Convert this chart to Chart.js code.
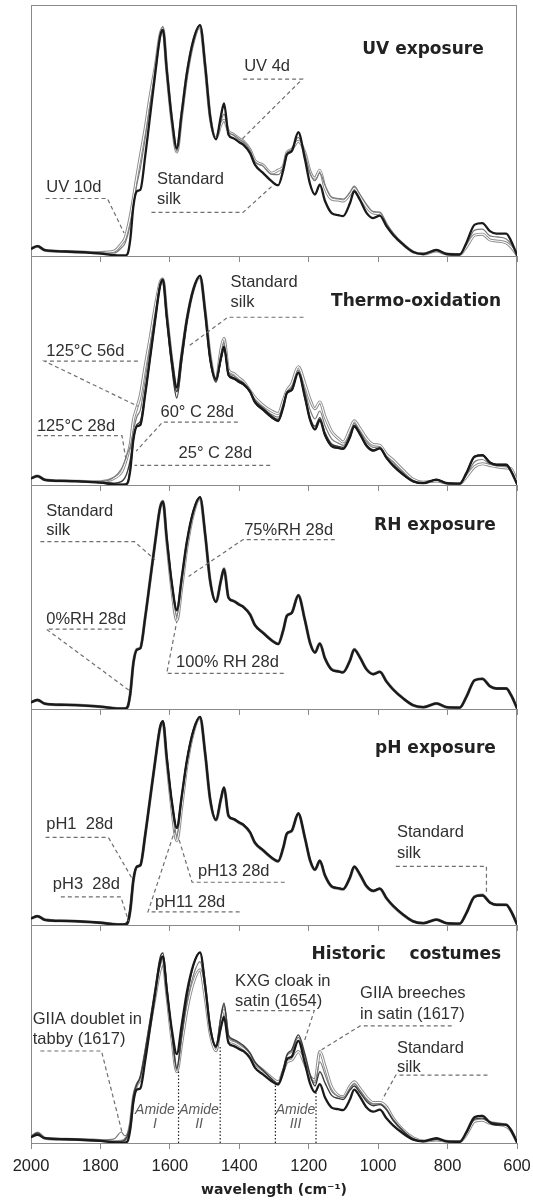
<!DOCTYPE html>
<html>
<head>
<meta charset="utf-8">
<script src="https://cdn.jsdelivr.net/npm/chart.js@4.4.1/dist/chart.umd.min.js"></script>
<style>
  html, body { margin: 0; padding: 0; background: #ffffff; }
  #fig { position: relative; width: 533px; height: 1201px; overflow: hidden; background: #ffffff; }
  #fig canvas { position: absolute; left: 0; }
</style>
</head>
<body>
<div id="fig"></div>
<script>
// Wavenumber grid (cm-1) shared by every spectrum, high to low
const WN = [2000, 1981, 1960, 1900, 1800, 1760, 1740, 1730, 1722, 1714,
  1705, 1695, 1685, 1671, 1657, 1642, 1628, 1620, 1609, 1594,
  1580, 1566, 1551, 1532, 1513, 1498, 1484, 1467, 1453, 1444,
  1431, 1417, 1400, 1388, 1369, 1355, 1331, 1307, 1288, 1273,
  1263, 1249, 1230, 1211, 1196, 1182, 1168, 1153, 1134, 1115,
  1101, 1081, 1069, 1053, 1033, 1014, 995, 976, 957, 928,
  899, 870, 832, 803, 765, 746, 722, 700, 678, 659,
  631, 617, 600];

// Normalised absorbance of the reference silk
const STD_SILK = [2.9, 3.9, 2.3, 1.8, 1.0, 0.3, 0.2, 0.2, 0.8, 6.6,
  19.9, 25.8, 26.4, 39.8, 55.7, 72.8, 87.5, 90.1, 74.2, 54.3,
  42.9, 56.9, 72.8, 86.1, 92.0, 75.5, 55.7, 46.5, 55.7, 60.8,
  48.3, 46.9, 45.3, 44.3, 41.0, 36.4, 33.0, 29.8, 28.2, 34.4,
  40.4, 41.7, 49.3, 38.6, 28.6, 24.5, 28.4, 21.9, 17.1, 16.3,
  15.9, 21.1, 25.8, 22.5, 17.1, 15.1, 16.1, 11.9, 8.5, 4.6,
  1.6, 0.8, 2.4, 0.8, 0.6, 5.2, 12.5, 13.1, 9.9, 8.9,
  8.9, 6.0, 0.4];

// UV exposure
const UV_4D = [2.9, 3.9, 2.3, 1.8, 1.2, 1.2, 3.2, 4.8, 8.0, 12.7,
  19.9, 28.6, 35.0, 46.9, 60.4, 74.8, 88.3, 91.5, 75.5, 54.5,
  41.8, 56.5, 72.5, 86.0, 92.0, 75.5, 55.7, 46.5, 53.5, 56.5,
  49.5, 48.3, 46.5, 45.5, 42.2, 37.6, 35.8, 32.6, 32.4, 35.6,
  41.0, 42.5, 47.3, 40.8, 33.0, 30.0, 33.0, 28.2, 23.5, 22.9,
  22.7, 25.4, 27.8, 24.7, 20.5, 17.7, 17.5, 13.1, 9.1, 4.8,
  1.6, 0.8, 2.2, 0.8, 0.6, 4.4, 10.3, 10.7, 8.0, 7.6,
  6.8, 4.8, 0.4];
const UV_10D = [2.9, 3.9, 2.3, 1.8, 1.4, 2.0, 4.8, 6.8, 10.7, 15.9,
  23.1, 31.8, 39.8, 50.9, 63.6, 75.5, 88.3, 90.7, 74.0, 53.5,
  41.4, 56.0, 72.0, 85.5, 91.6, 75.0, 55.5, 46.9, 52.3, 54.1,
  49.7, 48.5, 46.7, 45.7, 42.4, 38.0, 36.2, 33.0, 34.2, 35.8,
  41.2, 42.5, 45.7, 41.2, 33.6, 31.0, 34.2, 27.0, 22.7, 22.3,
  21.9, 24.7, 27.0, 23.9, 19.5, 17.1, 16.7, 12.3, 8.7, 4.6,
  1.6, 0.8, 2.0, 0.8, 0.6, 3.6, 8.3, 8.7, 6.4, 6.0,
  5.2, 3.6, 0.4];

// Thermo-oxidation
const T25_28D = [2.9, 3.9, 2.3, 1.8, 1.0, 0.3, 0.2, 0.3, 1.0, 7.0,
  20.0, 25.8, 26.5, 39.8, 55.5, 72.5, 87.3, 89.8, 73.0, 51.5,
  38.2, 54.0, 71.5, 85.8, 91.8, 75.0, 55.0, 45.2, 55.0, 60.3,
  48.0, 46.6, 45.0, 44.0, 40.8, 36.2, 32.8, 29.6, 27.9, 34.2,
  40.2, 41.5, 49.6, 38.4, 28.4, 24.2, 28.8, 21.6, 16.9, 16.1,
  15.8, 21.0, 25.7, 22.4, 17.0, 15.0, 16.0, 11.8, 8.4, 4.5,
  1.5, 0.8, 2.4, 0.8, 0.6, 5.3, 12.6, 13.2, 10.0, 9.0,
  9.0, 6.1, 0.4];
const T60_28D = [2.9, 3.9, 2.3, 1.8, 1.1, 0.8, 1.5, 3.0, 6.0, 11.0,
  20.5, 26.5, 28.0, 41.0, 56.5, 73.5, 87.8, 90.3, 74.0, 53.5,
  41.0, 56.5, 72.6, 86.0, 92.0, 75.5, 55.5, 46.0, 55.0, 60.0,
  48.6, 47.2, 45.6, 44.6, 41.2, 36.8, 33.6, 30.4, 28.8, 34.8,
  40.6, 42.0, 49.6, 39.3, 29.6, 25.8, 29.6, 23.0, 18.0, 17.0,
  16.5, 21.6, 26.2, 22.8, 17.6, 15.5, 16.3, 12.0, 8.8, 4.8,
  1.6, 0.8, 2.3, 0.8, 0.6, 5.0, 12.2, 12.8, 9.7, 8.8,
  8.8, 6.0, 0.4];
const T125_28D = [2.9, 3.9, 2.3, 1.8, 1.4, 3.5, 7.0, 10.5, 14.0, 17.0,
  24.0, 30.0, 33.0, 46.0, 61.0, 76.0, 88.5, 90.8, 74.8, 54.2,
  41.0, 56.5, 72.5, 86.0, 91.8, 75.8, 56.5, 46.3, 57.5, 62.5,
  49.5, 48.0, 46.0, 45.0, 41.3, 37.5, 34.0, 31.0, 29.8, 36.0,
  41.0, 43.0, 50.5, 41.5, 33.0, 29.0, 32.5, 26.0, 20.3, 18.4,
  17.4, 22.8, 27.0, 23.8, 18.8, 16.5, 16.8, 12.7, 9.8, 5.6,
  2.0, 1.0, 2.1, 0.8, 0.6, 4.3, 10.2, 11.2, 9.2, 8.4,
  8.2, 6.5, 1.0];
const T125_56D = [2.9, 3.9, 2.3, 1.8, 1.4, 3.0, 5.5, 9.0, 13.0, 18.0,
  28.5, 34.0, 39.5, 52.5, 64.5, 78.5, 89.0, 90.5, 75.0, 54.5,
  41.7, 57.0, 72.5, 86.0, 91.5, 76.0, 57.0, 46.1, 59.5, 64.5,
  50.5, 49.1, 46.9, 45.5, 41.5, 38.5, 35.0, 32.5, 31.4, 37.3,
  41.5, 44.5, 52.0, 44.5, 37.5, 33.5, 36.5, 30.0, 23.5, 20.5,
  18.9, 24.5, 28.2, 25.0, 20.4, 17.8, 17.4, 13.5, 11.0, 6.5,
  2.5, 1.2, 1.8, 0.8, 0.6, 3.5, 8.0, 9.3, 8.6, 8.0,
  7.5, 7.1, 1.5];

// Relative humidity
const RH0_28D = [2.9, 3.9, 2.3, 1.8, 1.0, 0.3, 0.2, 0.3, 1.2, 7.5,
  20.5, 25.5, 26.6, 40.0, 56.0, 73.0, 87.6, 90.3, 74.5, 54.8,
  43.4, 57.2, 73.0, 86.3, 92.2, 75.8, 55.9, 46.7, 55.8, 60.9,
  48.5, 47.0, 45.4, 44.4, 41.1, 36.5, 33.1, 29.9, 28.3, 34.5,
  40.5, 41.8, 49.4, 38.7, 28.7, 24.6, 28.5, 22.0, 17.2, 16.4,
  16.0, 21.2, 25.9, 22.6, 17.2, 15.2, 16.2, 12.0, 8.6, 4.7,
  1.7, 0.8, 2.4, 0.8, 0.6, 5.2, 12.5, 13.1, 9.9, 8.9,
  8.9, 6.0, 0.4];
const RH75_28D = [2.9, 3.9, 2.3, 1.8, 1.0, 0.3, 0.2, 0.2, 0.9, 6.8,
  20.0, 25.7, 26.4, 39.7, 55.6, 72.6, 87.4, 90.0, 73.6, 53.0,
  40.5, 54.0, 70.5, 85.2, 91.8, 75.3, 55.6, 46.4, 55.6, 60.6,
  48.2, 46.8, 45.2, 44.2, 40.9, 36.3, 32.9, 29.7, 28.1, 34.3,
  40.3, 41.6, 49.2, 38.5, 28.5, 24.4, 28.3, 21.8, 17.0, 16.2,
  15.8, 21.0, 25.7, 22.4, 17.0, 15.0, 16.0, 11.8, 8.4, 4.5,
  1.6, 0.8, 2.4, 0.8, 0.6, 5.1, 12.4, 13.0, 9.8, 8.8,
  8.8, 5.9, 0.4];
const RH100_28D = [2.9, 3.9, 2.3, 1.8, 1.0, 0.3, 0.2, 0.2, 0.9, 6.7,
  20.1, 25.9, 26.5, 39.9, 55.8, 72.9, 87.6, 90.2, 73.2, 51.5,
  38.3, 52.5, 70.0, 85.0, 91.7, 75.4, 55.8, 46.6, 55.8, 60.9,
  48.4, 47.0, 45.4, 44.4, 41.1, 36.5, 33.1, 29.9, 28.3, 34.5,
  40.5, 41.8, 49.4, 38.7, 28.7, 24.6, 28.5, 22.0, 17.2, 16.4,
  16.0, 21.2, 25.9, 22.6, 17.2, 15.2, 16.2, 12.0, 8.6, 4.6,
  1.6, 0.8, 2.4, 0.8, 0.6, 5.2, 12.5, 13.1, 9.9, 8.9,
  8.9, 6.0, 0.4];

// pH exposure
const PH1_28D = [2.9, 3.9, 2.3, 1.8, 1.0, 0.4, 0.4, 0.6, 1.5, 8.0,
  20.6, 26.0, 26.8, 40.2, 56.0, 73.1, 87.7, 90.3, 74.4, 54.6,
  43.2, 57.1, 72.9, 86.2, 92.1, 75.6, 55.8, 46.6, 55.8, 60.9,
  48.4, 47.0, 45.4, 44.4, 41.1, 36.5, 33.1, 29.9, 28.3, 34.5,
  40.5, 41.8, 49.4, 38.7, 28.7, 24.6, 28.5, 22.0, 17.2, 16.4,
  16.0, 21.2, 25.9, 22.6, 17.2, 15.2, 16.2, 12.0, 8.6, 4.7,
  1.7, 0.8, 2.4, 0.8, 0.6, 5.3, 12.6, 13.3, 10.1, 9.1,
  9.0, 6.1, 0.4];
const PH3_28D = [2.9, 3.9, 2.3, 1.8, 1.0, 0.3, 0.2, 0.2, 0.7, 6.2,
  19.6, 25.6, 26.2, 39.6, 55.5, 72.6, 87.3, 89.9, 74.0, 54.1,
  42.7, 56.7, 72.6, 85.9, 91.9, 75.4, 55.6, 46.4, 55.6, 60.7,
  48.2, 46.8, 45.2, 44.2, 40.9, 36.3, 32.9, 29.7, 28.1, 34.3,
  40.3, 41.6, 49.2, 38.5, 28.5, 24.4, 28.3, 21.8, 17.0, 16.2,
  15.8, 21.0, 25.7, 22.4, 17.0, 15.0, 16.0, 11.8, 8.4, 4.5,
  1.5, 0.8, 2.3, 0.8, 0.6, 5.1, 12.4, 12.9, 9.8, 8.8,
  8.8, 5.9, 0.4];
const PH11_28D = [2.9, 3.9, 2.3, 1.8, 1.0, 0.3, 0.2, 0.2, 0.8, 6.6,
  19.9, 25.8, 26.4, 39.8, 55.7, 72.8, 87.4, 90.0, 73.5, 52.5,
  39.4, 54.5, 71.5, 85.6, 91.9, 75.5, 55.7, 46.5, 55.7, 60.8,
  48.3, 46.9, 45.3, 44.3, 41.0, 36.4, 33.0, 29.8, 28.2, 34.4,
  40.4, 41.7, 49.3, 38.6, 28.6, 24.5, 28.4, 21.9, 17.1, 16.3,
  15.9, 21.1, 25.8, 22.5, 17.1, 15.1, 16.1, 11.9, 8.5, 4.6,
  1.6, 0.8, 2.4, 0.8, 0.6, 5.2, 12.5, 13.1, 9.9, 8.9,
  8.9, 6.0, 0.4];
const PH13_28D = [2.9, 3.9, 2.3, 1.8, 1.0, 0.3, 0.2, 0.2, 0.8, 6.6,
  19.9, 25.8, 26.4, 39.8, 55.7, 72.8, 87.3, 89.8, 73.0, 51.0,
  37.2, 52.0, 70.5, 85.3, 91.8, 75.3, 55.5, 46.4, 55.6, 60.6,
  48.2, 46.8, 45.2, 44.2, 40.9, 36.3, 32.9, 29.7, 28.1, 34.3,
  40.3, 41.6, 49.2, 38.5, 28.5, 24.4, 28.3, 21.8, 17.0, 16.2,
  15.8, 21.0, 25.7, 22.4, 17.0, 15.0, 16.0, 11.8, 8.4, 4.5,
  1.6, 0.8, 2.4, 0.8, 0.6, 5.2, 12.6, 13.3, 10.0, 9.0,
  9.0, 6.1, 0.4];

// Historic costumes
const GIIA_DOUBLET = [2.9, 4.8, 2.3, 1.8, 1.5, 2.0, 5.3, 3.5, 4.5, 10.0,
  22.0, 28.0, 31.5, 44.0, 58.0, 73.0, 86.0, 88.5, 74.0, 52.0,
  35.0, 50.5, 67.0, 81.0, 87.5, 73.5, 55.0, 46.0, 60.5, 66.5,
  51.5, 49.5, 48.0, 46.5, 43.0, 38.8, 35.0, 31.0, 29.0, 35.5,
  42.0, 44.0, 51.0, 42.0, 32.5, 29.0, 39.2, 33.0, 25.0, 22.5,
  22.0, 26.5, 28.5, 25.5, 21.0, 18.8, 19.0, 16.5, 11.5, 6.0,
  2.3, 1.0, 1.6, 0.8, 0.6, 5.0, 12.5, 13.4, 10.5, 9.8,
  9.0, 6.8, 0.5];
const KXG_CLOAK = [2.9, 4.8, 2.3, 1.8, 1.2, 0.6, 0.8, 1.5, 3.5, 9.0,
  22.5, 28.5, 32.0, 44.5, 59.0, 75.0, 89.5, 91.7, 75.5, 53.0,
  36.0, 52.0, 70.0, 86.0, 92.0, 77.0, 57.0, 47.0, 61.0, 67.5,
  52.0, 50.0, 48.5, 47.0, 43.5, 39.0, 35.0, 31.0, 28.5, 36.0,
  42.5, 45.0, 52.2, 43.0, 33.0, 27.5, 34.4, 29.0, 23.0, 21.5,
  21.0, 25.5, 27.5, 24.5, 20.0, 18.0, 18.5, 16.0, 11.0, 5.8,
  2.0, 1.0, 1.8, 0.8, 0.6, 4.5, 11.5, 12.0, 10.0, 9.5,
  8.5, 6.5, 0.5];
const GIIA_BREECHES = [2.9, 4.8, 2.3, 1.8, 1.2, 0.6, 0.8, 1.5, 3.5, 9.0,
  22.0, 28.0, 31.0, 43.0, 57.0, 71.0, 83.5, 86.9, 72.0, 50.0,
  34.4, 48.0, 64.0, 77.5, 83.6, 70.0, 53.0, 44.5, 58.0, 64.0,
  50.0, 48.5, 47.0, 45.5, 42.5, 38.5, 35.0, 31.5, 29.5, 35.0,
  39.0, 40.0, 44.1, 38.0, 32.0, 30.4, 44.1, 37.0, 27.0, 23.0,
  22.3, 27.5, 29.5, 26.5, 22.0, 19.5, 19.5, 17.5, 12.0, 6.2,
  2.5, 1.0, 1.5, 0.8, 0.6, 4.0, 10.5, 11.0, 9.5, 9.0,
  8.0, 6.0, 0.5];

// Axis ticks and amide band boundaries
const X_TICKS = [2000, 1800, 1600, 1400, 1200, 1000, 800, 600];
const AMIDE_EDGES = [1575, 1455, 1296, 1179];
const AMIDE_TOPS = [35.2, 46.5, 27.9, 24.7];
const AMIDE_NAMES = ['I', 'II', 'III'];
const AMIDE_CENTRES = [1643, 1516, 1238];

// ---------------------------------------------------------------- styles
const LINE = {
  std:  { color: '#1a1a1a', width: 2.3 },
  dark: { color: '#3c3c3c', width: 1.4 },
  mid:  { color: '#7c7c7c', width: 1.2 },
  pale: { color: '#8c8c8c', width: 3.0, inner: '#ffffff', innerWidth: 1.1 }
};
const FONT_LABEL = '16.5px "Liberation Sans", Arial, sans-serif';
const FONT_TITLE = 'bold 17px "DejaVu Sans", Verdana, sans-serif';
const FONT_AMIDE = 'italic 14px "Liberation Sans", Arial, sans-serif';

// plot box edges in page pixels; canvases run wider and are clipped by #fig
const PLOT_LEFT = 31, PLOT_RIGHT = 517, CANVAS_W = 570;

Chart.defaults.font.family = '"Liberation Sans", Arial, sans-serif';

// text: [string, wavenumber, value, align, font]
const PANELS = [
  {
    top: 5, bottom: 256, yMax: 100,
    series: [['Standard silk', STD_SILK, 'std'], ['UV 4d', UV_4D, 'mid'], ['UV 10d', UV_10D, 'pale']],
    texts: [
      ['UV exposure', 696, 82.4, 'right', FONT_TITLE],
      ['UV 4d', 1386, 75.7],
      ['Standard', 1637, 30.4], ['silk', 1637, 22.5],
      ['UV 10d', 1956, 27.4]
    ],
    leaders: [
      [[1389, 70.5], [1218, 70.5], [1394, 46.3]],
      [[1653, 17.4], [1389, 17.4], [1301, 28.4]],
      [[1958, 22.9], [1780, 22.9], [1732, 9.2]]
    ]
  },
  {
    top: 256, bottom: 485, yMax: 100.6,
    series: [['Standard silk', STD_SILK, 'std'], ['25° C 28d', T25_28D, 'dark'], ['60° C 28d', T60_28D, 'dark'],
             ['125°C 28d', T125_28D, 'mid'], ['125°C 56d', T125_56D, 'pale']],
    texts: [
      ['Thermo-oxidation', 646, 80.7, 'right', FONT_TITLE],
      ['Standard', 1425, 88.8], ['silk', 1425, 80.0],
      ['125°C 56d', 1956, 58.8],
      ['125°C 28d', 1983, 25.8],
      ['60° C 28d', 1627, 32.0],
      ['25° C 28d', 1575, 13.8]
    ],
    leaders: [
      [[1215, 73.7], [1433, 73.7], [1546, 61.0]],
      [[1692, 54.4], [1961, 54.4], [1692, 34.6]],
      [[1983, 21.7], [1738, 21.7], [1725, 9.8]],
      [[1404, 27.6], [1621, 27.6], [1697, 14.9]],
      [[1311, 8.6], [1702, 8.6]]
    ]
  },
  {
    top: 485, bottom: 709, yMax: 97.3,
    series: [['Standard silk', STD_SILK, 'std'], ['0%RH 28d', RH0_28D, 'dark'], ['75%RH 28d', RH75_28D, 'mid'],
             ['100% RH 28d', RH100_28D, 'pale']],
    texts: [
      ['RH exposure', 661, 79.8, 'right', FONT_TITLE],
      ['Standard', 1956, 85.9], ['silk', 1956, 77.6],
      ['75%RH 28d', 1386, 77.6],
      ['0%RH 28d', 1956, 38.7],
      ['100% RH 28d', 1582, 20.2]
    ],
    leaders: [
      [[1973, 72.7], [1702, 72.7], [1643, 64.9]],
      [[1125, 73.6], [1389, 73.6], [1546, 57.6]],
      [[1736, 34.7], [1956, 34.7], [1712, 7.5]],
      [[1272, 15.5], [1609, 15.5], [1580, 38.0]]
    ]
  },
  {
    top: 709, bottom: 925, yMax: 95.5,
    series: [['Standard silk', STD_SILK, 'std'], ['pH1 28d', PH1_28D, 'dark'], ['pH3 28d', PH3_28D, 'dark'],
             ['pH11 28d', PH11_28D, 'mid'], ['pH13 28d', PH13_28D, 'pale']],
    texts: [
      ['pH exposure', 661, 78.2, 'right', FONT_TITLE],
      ['pH1  28d', 1956, 44.3],
      ['pH3  28d', 1937, 17.9],
      ['pH13 28d', 1519, 23.5],
      ['pH11 28d', 1643, 10.1],
      ['Standard', 946, 40.7], ['silk', 946, 31.5]
    ],
    leaders: [
      [[1958, 38.7], [1777, 38.7], [1707, 20.1]],
      [[1914, 12.4], [1741, 12.4], [1719, 1.7]],
      [[1269, 18.9], [1536, 18.9], [1575, 38.5]],
      [[1399, 5.8], [1663, 5.8], [1585, 42.1]],
      [[949, 25.9], [688, 25.9], [688, 14.2]]
    ]
  },
  {
    top: 925, bottom: 1143, yMax: 105.2, last: true,
    series: [['Standard silk', STD_SILK, 'std'], ['KXG cloak in satin (1654)', KXG_CLOAK, 'dark'],
             ['GIIA doublet in tabby (1617)', GIIA_DOUBLET, 'mid'], ['GIIA breeches in satin (1617)', GIIA_BREECHES, 'pale']],
    texts: [
      ['Historic    costumes', 646, 90.8, 'right', FONT_TITLE],
      ['KXG cloak in', 1412, 78.0], ['satin (1654)', 1412, 68.3],
      ['GIIA breeches', 1052, 72.0], ['in satin (1617)', 1052, 61.8],
      ['GIIA doublet in', 1995, 59.4], ['tabby (1617)', 1995, 50.1],
      ['Standard', 946, 45.7], ['silk', 946, 36.3]
    ],
    leaders: [
      [[1409, 63.9], [1184, 63.9], [1213, 48.9]],
      [[788, 56.5], [1052, 56.5], [1164, 44.9]],
      [[1973, 44.4], [1797, 44.4], [1738, 5.3]],
      [[685, 32.8], [949, 32.8], [988, 21.0]]
    ]
  }
];

// Amide band captions in the historic panel
AMIDE_NAMES.forEach((n, i) => {
  PANELS[4].texts.push(['Amide', AMIDE_CENTRES[i], 15.8, 'center', FONT_AMIDE, '#5a5a5a']);
  PANELS[4].texts.push([n, AMIDE_CENTRES[i], 8.9, 'center', FONT_AMIDE, '#5a5a5a']);
});

// ---------------------------------------------------------------- drawing
const toPoints = vals => WN.map((w, i) => ({ x: w, y: vals[i] }));

function lineSet(label, vals, color, width) {
  return {
    label, data: toPoints(vals), borderColor: color, borderWidth: width,
    pointRadius: 0, fill: false, cubicInterpolationMode: 'monotone',
    borderJoinStyle: 'round', borderCapStyle: 'round'
  };
}

function buildDatasets(panel) {
  const front = [], back = [];
  panel.series.forEach(([label, vals, kind]) => {
    const s = LINE[kind];
    if (kind === 'pale') {
      back.push(lineSet(label, vals, s.inner, s.innerWidth));
      back.push(lineSet(label, vals, s.color, s.width));
    } else {
      front.push(lineSet(label, vals, s.color, s.width));
    }
  });
  const marks = [];
  if (panel.last) {
    AMIDE_EDGES.forEach((edge, i) => {
      marks.push({
        label: 'amide boundary', data: [{ x: edge, y: 0 }, { x: edge, y: AMIDE_TOPS[i] }],
        borderColor: '#222222', borderWidth: 1.2, borderDash: [1.5, 2], pointRadius: 0, fill: false, tension: 0
      });
    });
  }
  // index 0 is painted last, so the reference spectrum stays on top
  return [...marks, ...front, ...back];
}

function decorPlugin(panel) {
  return {
    id: 'panelDecor',
    beforeDatasetsDraw(chart) {
      const { ctx, chartArea: a } = chart;
      ctx.save();
      ctx.strokeStyle = '#8a8a8a';
      ctx.lineWidth = 1;
      ctx.strokeRect(Math.round(a.left) + 0.5, Math.round(a.top) + 0.5,
                     Math.round(a.right - a.left) - 1, Math.round(a.bottom - a.top));
      ctx.restore();
    },
    afterDatasetsDraw(chart) {
      const { ctx, scales: { x, y } } = chart;
      const px = w => x.getPixelForValue(w), py = v => y.getPixelForValue(v);
      ctx.save();
      ctx.strokeStyle = '#6f6f6f';
      ctx.lineWidth = 1.2;
      ctx.setLineDash([4, 3]);
      panel.leaders.forEach(path => {
        ctx.beginPath();
        path.forEach(([w, v], i) => (i ? ctx.lineTo(px(w), py(v)) : ctx.moveTo(px(w), py(v))));
        ctx.stroke();
      });
      ctx.setLineDash([]);
      ctx.textBaseline = 'middle';
      panel.texts.forEach(([text, w, v, align, font, color]) => {
        ctx.font = font || FONT_LABEL;
        ctx.fillStyle = color || (font === FONT_TITLE ? '#222222' : '#303030');
        ctx.textAlign = align || 'left';
        ctx.fillText(text, px(w), py(v));
      });
      ctx.restore();
    }
  };
}

const fig = document.getElementById('fig');
PANELS.forEach(panel => {
  const canvasTop = panel.top - 2;
  const height = panel.last ? 1201 - canvasTop : panel.bottom - panel.top + 10;
  const canvas = document.createElement('canvas');
  canvas.width = CANVAS_W;
  canvas.height = height;
  canvas.style.top = canvasTop + 'px';
  canvas.style.width = CANVAS_W + 'px';
  canvas.style.height = height + 'px';
  fig.appendChild(canvas);

  const last = !!panel.last;
  const chart = new Chart(canvas, {
    type: 'line',
    data: { datasets: buildDatasets(panel) },
    options: {
      responsive: false,
      animation: false,
      devicePixelRatio: 1,
      layout: { padding: { top: 2, left: PLOT_LEFT, right: CANVAS_W - PLOT_RIGHT, bottom: last ? 2.4 : 2 } },
      plugins: { legend: { display: false }, tooltip: { enabled: false }, title: { display: false } },
      scales: {
        x: {
          type: 'linear', min: 600, max: 2000, reverse: true,
          afterBuildTicks: s => { s.ticks = X_TICKS.map(v => ({ value: v })); },
          ticks: {
            display: last, autoSkip: false, maxRotation: 0, padding: 8, color: '#222222',
            font: { size: 16.5, family: '"Liberation Sans", Arial, sans-serif' },
            callback: v => String(v)
          },
          grid: { drawOnChartArea: false, drawTicks: true, tickLength: 6, color: '#8a8a8a', lineWidth: 1 },
          border: { display: true, color: '#8a8a8a', width: 1 },
          title: {
            display: last, text: 'wavelength (cm⁻¹)', color: '#222222',
            font: { family: '"DejaVu Sans", Verdana, sans-serif', weight: 'bold', size: 14 },
            padding: { top: -3, bottom: 0 }
          }
        },
        y: { display: false, min: 0, max: panel.yMax }
      }
    },
    plugins: [decorPlugin(panel)]
  });

  // keep the plotting box on the panel's frame
  const pad = chart.options.layout.padding;
  const dBottom = chart.chartArea.bottom - (panel.bottom - canvasTop);
  const dLeft = PLOT_LEFT - chart.chartArea.left;
  const dRight = chart.chartArea.right - PLOT_RIGHT;
  if (Math.abs(dBottom) > 0.05 || Math.abs(dLeft) > 0.05 || Math.abs(dRight) > 0.05) {
    pad.bottom += dBottom;
    pad.left += dLeft;
    pad.right += dRight;
    chart.update('none');
  }
});
</script>
</body>
</html>
